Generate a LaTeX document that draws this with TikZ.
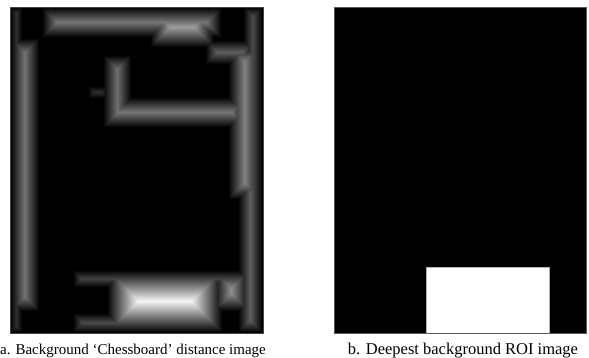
\documentclass[tikz,border=0pt]{standalone}
\usepackage{fontspec}
\setmainfont{Liberation Serif}
\begin{document}
\begin{tikzpicture}[x=1pt,y=-1pt,
  framed/.style={draw=gray!70!black,line width=0.8pt},
  captiontext/.style={anchor=base,inner sep=0pt,text=black}]
\useasboundingbox[fill=white] (0,0) rectangle (589,358);

% ---------- panel a: chessboard distance of the background ----------
\fill[black] (10,7) rectangle (263,333);
% background corridors (x1/y1/x2/y2); each is shaded as a stepped hip roof,
% level by level, so overlapping corridors keep the larger distance
\def\corridors{10/38/40/312, 10/7/23/333, 42/7/222/38, 150/7/215/48,
  205/40/255/65, 243/7/263/333, 228/45/262/200, 238/180/263/333,
  103/97/247/128, 103/55/132/128, 88/86/108/99,
  73/270/250/288, 73/313/223/333, 107/270/223/333, 213/270/250/312}
\foreach \k in {1,...,32}{
  \pgfmathsetmacro\lv{min(100,3.1*\k)}
  \foreach \xa/\ya/\xb/\yb in \corridors{
    \pgfmathtruncatemacro\ok{((\xb-\xa)>2*\k) && ((\yb-\ya)>2*\k)}
    \ifnum\ok=1
      \fill[white!\lv!black] (\xa+\k,\ya+\k) rectangle (\xb-\k,\yb-\k);
    \fi
  }
}
\draw[draw=gray!55!black,line width=0.6pt] (10,7) rectangle (263,333);

% ---------- panel b: deepest background region ----------
\fill[black] (334,7) rectangle (586,333);
\fill[white,draw=gray!60,line width=0.6pt] (426,267) rectangle (549,333);
\draw[framed] (334,7) rectangle (586,333);

% ---------- captions ----------
\node[captiontext,font=\fontsize{15}{18}\selectfont] (cap-a) at (133,354)
  {a. Background ‘Chessboard’ distance image};
\node[captiontext,font=\fontsize{16.5}{19}\selectfont] (cap-b) at (463,354)
  {b. Deepest background ROI image};
\end{tikzpicture}
\end{document}
